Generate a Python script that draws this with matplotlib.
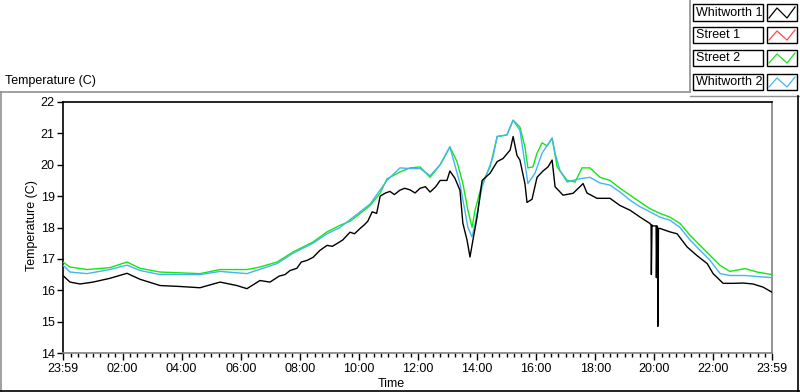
import numpy as np
import matplotlib
matplotlib.use('Agg')
import matplotlib.pyplot as plt
from matplotlib.lines import Line2D
from matplotlib.patches import Rectangle

plt.rcParams['font.family'] = ['Liberation Sans', 'DejaVu Sans']

# hours of the day, axis runs 23:59 -> 23:59
whitworth_1_t = [-0.02, 0.22, 0.56, 1.0, 1.57, 2.15, 2.59, 3.27, 3.94, 4.62, 5.30, 5.87, 6.21,
                 6.65, 6.99, 7.30, 7.50, 7.67, 7.90, 8.05, 8.24, 8.45, 8.68, 8.92, 9.10, 9.26,
                 9.45, 9.70, 9.85, 10.04, 10.20, 10.30, 10.45, 10.60, 10.72, 10.90,
                 11.05, 11.20, 11.39, 11.55, 11.73, 11.90, 12.07, 12.25, 12.41, 12.60, 12.75,
                 12.98, 13.08, 13.25, 13.42, 13.52,
                 13.66, 13.76, 13.86, 14.0, 14.17, 14.44, 14.68, 14.88, 15.12, 15.22, 15.35,
                 15.45, 15.62, 15.69, 15.86, 16.03, 16.23, 16.40, 16.54, 16.64, 16.91, 17.25,
                 17.59, 17.72, 18.06, 18.50, 18.84, 19.18, 19.52, 19.85, 19.89, 19.90, 19.92,
                 19.94, 20.06, 20.07, 20.09, 20.11, 20.12, 20.14, 20.19, 20.53, 20.77, 21.11,
                 21.45, 21.79, 21.99, 22.33, 22.66, 23.0, 23.34, 23.68, 23.98]
whitworth_1 = [16.47, 16.26, 16.2, 16.26, 16.38, 16.54, 16.35, 16.15, 16.12, 16.08, 16.26, 16.15,
               16.05, 16.31, 16.26, 16.45, 16.5, 16.63, 16.7, 16.9, 16.95, 17.05, 17.27, 17.43,
               17.4, 17.49, 17.6, 17.85, 17.8, 17.97, 18.1, 18.2, 18.5, 18.45,
               19.0, 19.1, 19.15, 19.05, 19.19, 19.25, 19.2, 19.1, 19.25, 19.3, 19.13, 19.3, 19.5,
               19.5, 19.8, 19.57, 19.19, 18.13,
               17.6, 17.06, 17.6, 18.33, 19.5, 19.73, 20.1, 20.2, 20.47, 20.9, 20.3, 20.15,
               19.4, 18.8, 18.9, 19.6, 19.8, 19.93, 20.15, 19.3, 19.03, 19.09, 19.4, 19.1,
               18.93, 18.93, 18.7, 18.55, 18.33, 18.13, 18.08, 16.5, 18.08, 18.05, 18.05,
               16.4, 18.05, 18.0, 14.85, 17.97, 17.97, 17.86, 17.8, 17.38, 17.1, 16.85, 16.53,
               16.22, 16.22, 16.23, 16.2, 16.1, 15.94]

street_1_t = []
street_1 = []

street_2_t = [-0.02, 0.22, 0.80, 1.57, 2.15, 2.59, 3.27, 4.62, 5.30, 6.21, 6.65, 7.23, 7.77, 8.45,
              8.92, 9.36, 9.70, 10.04, 10.38, 10.72, 10.95, 11.39, 11.73, 12.07, 12.41, 12.75,
              13.08, 13.32, 13.52, 13.69, 13.83, 13.93, 14.17, 14.44, 14.68, 15.01, 15.22, 15.45,
              15.62, 15.72, 15.89, 16.03, 16.20, 16.37, 16.54, 16.71, 17.05, 17.32, 17.55, 17.82,
              18.16, 18.50, 18.84, 19.18, 19.52, 19.85, 20.19, 20.53, 20.87, 21.21, 21.55, 21.89,
              22.23, 22.56, 23.07, 23.48, 23.98]
street_2 = [16.9, 16.74, 16.66, 16.72, 16.9, 16.7, 16.58, 16.53, 16.66, 16.66, 16.74, 16.9, 17.22,
            17.54, 17.86, 18.07, 18.2, 18.45, 18.7, 19.1, 19.55, 19.77, 19.9, 19.93, 19.6, 20.0,
            20.57, 20.1, 19.4, 18.55, 18.0, 18.55, 19.4, 19.93, 20.9, 20.95, 21.42, 21.2, 20.57,
            19.9, 19.93, 20.37, 20.7, 20.6, 20.85, 19.93, 19.5, 19.45, 19.9, 19.9, 19.6, 19.5,
            19.25, 19.03, 18.81, 18.6, 18.45, 18.33, 18.13, 17.75, 17.43, 17.11, 16.79, 16.6,
            16.69, 16.58, 16.5]

whitworth_2_t = [-0.02, 0.22, 0.80, 1.57, 2.15, 2.59, 3.27, 4.62, 5.30, 6.21, 7.23, 7.77, 8.45,
                 8.92, 9.36, 9.70, 10.04, 10.38, 10.72, 10.95, 11.39, 11.73, 12.07, 12.41, 12.75,
                 13.08, 13.42, 13.69, 13.83, 13.93, 14.17, 14.54, 14.68, 15.01, 15.22, 15.45,
                 15.62, 15.72, 15.96, 16.20, 16.54, 16.64, 16.81, 17.05, 17.45, 17.82, 18.16,
                 18.50, 18.84, 19.18, 19.52, 19.85, 20.19, 20.53, 20.87, 21.21, 21.55, 21.89,
                 22.23, 22.56, 23.07, 23.98]
whitworth_2 = [16.8, 16.58, 16.53, 16.66, 16.8, 16.63, 16.5, 16.5, 16.6, 16.53, 16.85, 17.18, 17.5,
               17.8, 18.0, 18.25, 18.5, 18.75, 19.2, 19.5, 19.9, 19.88, 19.88, 19.65, 20.0, 20.57,
               19.4, 18.0, 17.7, 18.1, 19.3, 20.25, 20.9, 20.95, 21.42, 21.1, 20.05, 19.4, 19.73,
               20.37, 20.85, 20.37, 19.8, 19.45, 19.55, 19.6, 19.42, 19.35, 19.13, 18.87, 18.66,
               18.5, 18.33, 18.23, 18.0, 17.6, 17.27, 16.95, 16.53, 16.47, 16.47, 16.4]

names = ['Whitworth 1', 'Street 1', 'Street 2', 'Whitworth 2']
colors = ['#000000', '#ff4a4a', '#14e614', '#44b4f4']
tick_labels = ['23:59', '02:00', '04:00', '06:00', '08:00', '10:00', '12:00', '14:00',
               '16:00', '18:00', '20:00', '22:00', '23:59']

W, H = 800, 392
FS = 9
fig = plt.figure(figsize=(8, 3.92), dpi=100)
ax = fig.add_axes([63 / W, 1 - 353 / H, (772 - 63) / W, (353 - 102) / H])

series = [(whitworth_1_t, whitworth_1), (street_1_t, street_1),
          (street_2_t, street_2), (whitworth_2_t, whitworth_2)]
order = [1, 2, 3, 0]
for i in order:
    t, v = series[i]
    ax.plot(t, v, color=colors[i], lw=1.0, zorder=3 + (i == 0))

x0, x1 = -1 / 60, 24 - 1 / 60
ax.set_xlim(x0, x1)
ax.set_ylim(14, 22)
ax.set_xticks([x0] + list(range(2, 23, 2)) + [x1])
ax.set_xticklabels(tick_labels)
ax.set_xticks([m for m in np.arange(0.25, 24, 0.25) if m % 2 != 0], minor=True)
ax.set_yticks(range(14, 23))
ax.tick_params(axis='both', which='major', labelsize=FS, color='black', width=1)
ax.tick_params(axis='x', which='major', length=5, pad=2)
ax.tick_params(axis='x', which='minor', length=3, width=1)
ax.tick_params(axis='y', which='major', length=4, pad=2)
for s in ['top', 'left']:
    ax.spines[s].set_color('black')
    ax.spines[s].set_linewidth(1.2)
for s in ['right', 'bottom']:
    ax.spines[s].set_color('#808080')
    ax.spines[s].set_linewidth(1.2)

fig.text(5 / W, 1 - 81 / H, 'Temperature (C)', fontsize=FS, va='center', ha='left')
fig.text(32 / W, 1 - 226 / H, 'Temperature (C)', fontsize=FS, rotation=90,
         va='center', ha='center')
fig.text(391 / W, 1 - 384 / H, 'Time', fontsize=FS, va='center', ha='center')


def fline(xs, ys, color, lw=1.0):
    fig.add_artist(Line2D([x / W for x in xs], [1 - y / H for y in ys],
                          color=color, lw=lw, transform=fig.transFigure))


# outer panel frame
fline([0, 690], [92, 92], '#909090', 1.2)
fline([690, 690], [0, 92], '#909090', 1.2)
fline([1, 1], [92, 392], '#909090', 1.2)
fline([690, 800], [96, 96], '#909090', 1.0)
fline([798, 798], [96, 392], 'black', 1.2)
fline([0, 800], [391, 391], 'black', 1.2)

# legend
rows = [(4, 21), (27, 43), (50, 66), (74, 90)]
for (y0, y1), name, c in zip(rows, names, colors):
    fig.add_artist(Rectangle((693 / W, 1 - y1 / H), 70 / W, (y1 - y0) / H,
                             transform=fig.transFigure, facecolor='white',
                             edgecolor='black', lw=1.0))
    fig.add_artist(Rectangle((767 / W, 1 - y1 / H), 30 / W, (y1 - y0) / H,
                             transform=fig.transFigure, facecolor='white',
                             edgecolor='black', lw=1.0))
    fig.text(696 / W, 1 - (y0 + y1) / 2 / H, name, fontsize=FS, va='center', ha='left')
    fline([769, 777, 787, 795], [y1 - 3, y0 + 4, y1 - 3, y0 + 3], c, 0.9)

fig.savefig('out.png', dpi=100)
